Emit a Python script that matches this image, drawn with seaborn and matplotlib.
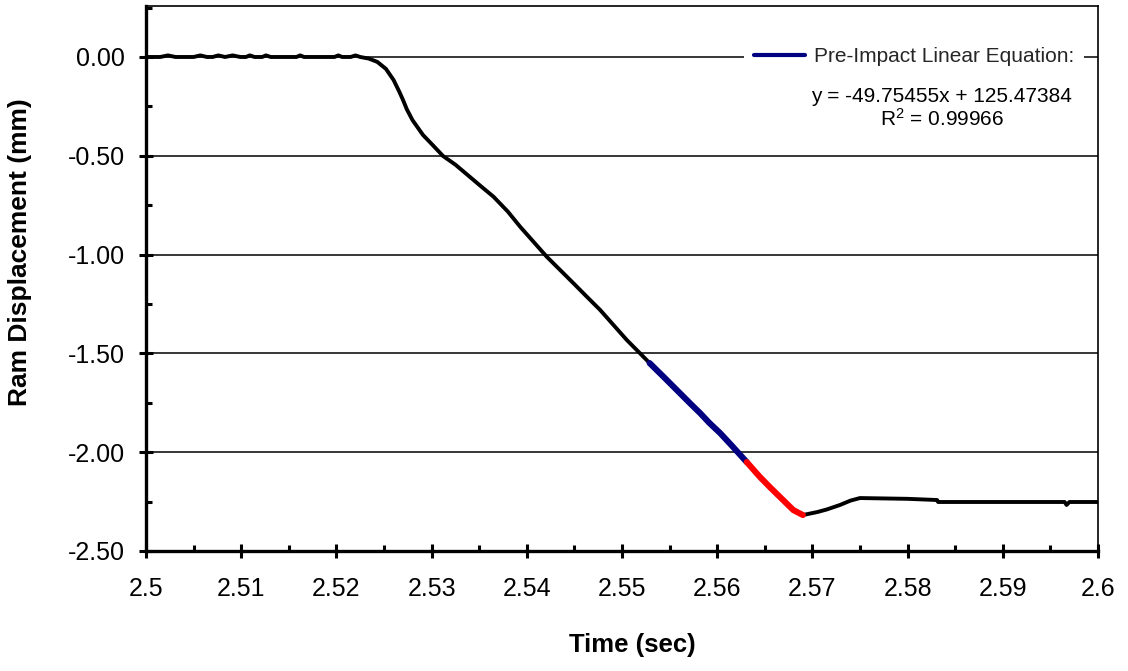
import numpy as np
import pandas as pd
import matplotlib
matplotlib.use("Agg")
import matplotlib.pyplot as plt
import seaborn as sns
from matplotlib.ticker import MultipleLocator, FixedLocator

# ---- data ----
t_black1 = [2.5000, 2.5015, 2.5023, 2.5031, 2.5050, 2.5057, 2.5064, 2.5070, 2.5076, 2.5083,
            2.5091, 2.5099, 2.5105, 2.5109, 2.5114, 2.5122, 2.5126, 2.5131, 2.5145, 2.5158,
            2.5162, 2.5166, 2.5185, 2.5198, 2.5202, 2.5206, 2.5215, 2.5220, 2.5225,
            2.5234, 2.5243, 2.5252, 2.5260, 2.5266, 2.5270, 2.5274, 2.5280, 2.5291,
            2.5300, 2.5312, 2.5325, 2.5340, 2.5352, 2.5365, 2.5380, 2.5393, 2.5407,
            2.5421, 2.5435, 2.5449, 2.5463, 2.5477, 2.5491, 2.5505, 2.5519, 2.5529]
y_black1 = [0.000, 0.000, 0.008, 0.000, 0.000, 0.008, 0.000, 0.000, 0.008, 0.000,
            0.008, 0.000, 0.000, 0.008, 0.000, 0.000, 0.008, 0.000, 0.000, 0.000,
            0.008, 0.000, 0.000, 0.000, 0.008, 0.000, 0.000, 0.008, 0.000,
            -0.008, -0.025, -0.060, -0.116, -0.175, -0.218, -0.265, -0.320, -0.395,
            -0.440, -0.501, -0.545, -0.606, -0.655, -0.707, -0.782, -0.859, -0.935,
            -1.011, -1.078, -1.145, -1.213, -1.280, -1.356, -1.432, -1.500, -1.549]

t_blue = [2.5529, 2.5545, 2.5561, 2.5572, 2.5582, 2.5592, 2.5603, 2.5615, 2.5631]
y_blue = [-1.549, -1.625, -1.702, -1.755, -1.802, -1.853, -1.903, -1.965, -2.050]

t_red = [2.5631, 2.5645, 2.5656, 2.5666, 2.5680, 2.5690]
y_red = [-2.050, -2.126, -2.180, -2.227, -2.293, -2.318]

t_black2 = [2.5690, 2.5705, 2.5715, 2.5729, 2.5740, 2.5750, 2.5800, 2.5831, 2.5832,
            2.5900, 2.5965, 2.5967, 2.5970, 2.6000]
y_black2 = [-2.318, -2.303, -2.290, -2.267, -2.245, -2.232, -2.236, -2.242, -2.252,
            -2.252, -2.252, -2.267, -2.252, -2.252]

legend_label = "Pre-Impact Linear Equation:"
eq_line = "y = -49.75455x + 125.47384"
r2_line = "R$^2$ = 0.99966"
x_ticks = [2.5, 2.51, 2.52, 2.53, 2.54, 2.55, 2.56, 2.57, 2.58, 2.59, 2.6]
x_tick_labels = ["2.5", "2.51", "2.52", "2.53", "2.54", "2.55", "2.56", "2.57", "2.58", "2.59", "2.6"]
y_ticks = [0.0, -0.5, -1.0, -1.5, -2.0, -2.5]
y_tick_labels = ["0.00", "-0.50", "-1.00", "-1.50", "-2.00", "-2.50"]

# ---- plot ----
sns.set_theme(style="white")
plt.rcParams['font.family'] = ['Liberation Sans', 'DejaVu Sans']
plt.rcParams['mathtext.fontset'] = 'custom'
plt.rcParams['mathtext.rm'] = 'Liberation Sans'
plt.rcParams['mathtext.it'] = 'Liberation Sans:italic'

fig = plt.figure(figsize=(11.28, 6.71), dpi=100)
ax = fig.add_axes([146/1128, 1-551/671, (1098-146)/1128, (551-6)/671])

df1 = pd.DataFrame({"t": t_black1, "y": y_black1})
df2 = pd.DataFrame({"t": t_black2, "y": y_black2})
dfb = pd.DataFrame({"t": t_blue, "y": y_blue})
dfr = pd.DataFrame({"t": t_red, "y": y_red})

for y in y_ticks:
    ax.axhline(y, color="black", lw=1.1, zorder=1)

sns.lineplot(data=df1, x="t", y="y", ax=ax, color="black", lw=2.8, sort=False,
             estimator=None, legend=False, zorder=3)
sns.lineplot(data=df2, x="t", y="y", ax=ax, color="black", lw=2.8, sort=False,
             estimator=None, legend=False, zorder=3)
sns.lineplot(data=dfb, x="t", y="y", ax=ax, color="#000080", lw=4.4, sort=False,
             estimator=None, legend=False, zorder=4)
blue_handle = ax.lines[-1]
sns.lineplot(data=dfr, x="t", y="y", ax=ax, color="#FF0000", lw=4.4, sort=False,
             estimator=None, legend=False, zorder=4)

ax.set_xlim(2.5, 2.6)
ax.set_ylim(-2.5, 0.258)
ax.xaxis.set_major_locator(FixedLocator(x_ticks))
ax.set_xticklabels(x_tick_labels)
ax.xaxis.set_minor_locator(MultipleLocator(0.005))
ax.yaxis.set_major_locator(FixedLocator(y_ticks))
ax.set_yticklabels(y_tick_labels)
ax.yaxis.set_minor_locator(MultipleLocator(0.25))

ax.tick_params(axis="both", which="major", direction="inout", length=10, width=2.2,
               color="black", labelsize=18, labelcolor="black")
ax.tick_params(axis="x", which="major", pad=14)
ax.tick_params(axis="y", which="major", pad=10)
ax.tick_params(axis="both", which="minor", direction="in", length=4, width=2.2, color="black")
ax.tick_params(axis="x", which="both", bottom=True, top=False)
ax.tick_params(axis="y", which="both", left=True, right=False)

for side in ["left", "bottom"]:
    ax.spines[side].set_linewidth(2.4)
    ax.spines[side].set_color("black")
for side in ["top", "right"]:
    ax.spines[side].set_linewidth(1.2)
    ax.spines[side].set_color("black")
    ax.spines[side].set_visible(True)

ax.set_xlabel("Time (sec)", fontsize=18.5, fontweight="bold", color="black")
ax.set_ylabel("Ram Displacement (mm)", fontsize=19, fontweight="bold", color="black")
ax.xaxis.label.set_va("center")
ax.yaxis.label.set_va("center")
ax.xaxis.set_label_coords((632-146)/952, (551-645)/545)
ax.yaxis.set_label_coords((20-146)/952, (551-252)/545)

leg = ax.legend(handles=[blue_handle], labels=[legend_label], loc="center left",
                bbox_to_anchor=((744-146)/952, (551-57)/545), frameon=True,
                fontsize=15, handlelength=2.45, handletextpad=0.4, borderpad=0.5,
                borderaxespad=0)
leg.get_frame().set_facecolor("white")
leg.get_frame().set_edgecolor("none")
leg.get_frame().set_alpha(1)
leg.set_zorder(5)
for ln in leg.get_lines():
    ln.set_linewidth(3)

ax.text((941-146)/952, (551-97)/545, eq_line, transform=ax.transAxes, ha="center",
        va="center", fontsize=15, color="black", zorder=6)
ax.text((942-146)/952, (551-119)/545, r2_line, transform=ax.transAxes, ha="center",
        va="center", fontsize=15, color="black", zorder=6)

fig.savefig("out.png", dpi=100, facecolor="white")
